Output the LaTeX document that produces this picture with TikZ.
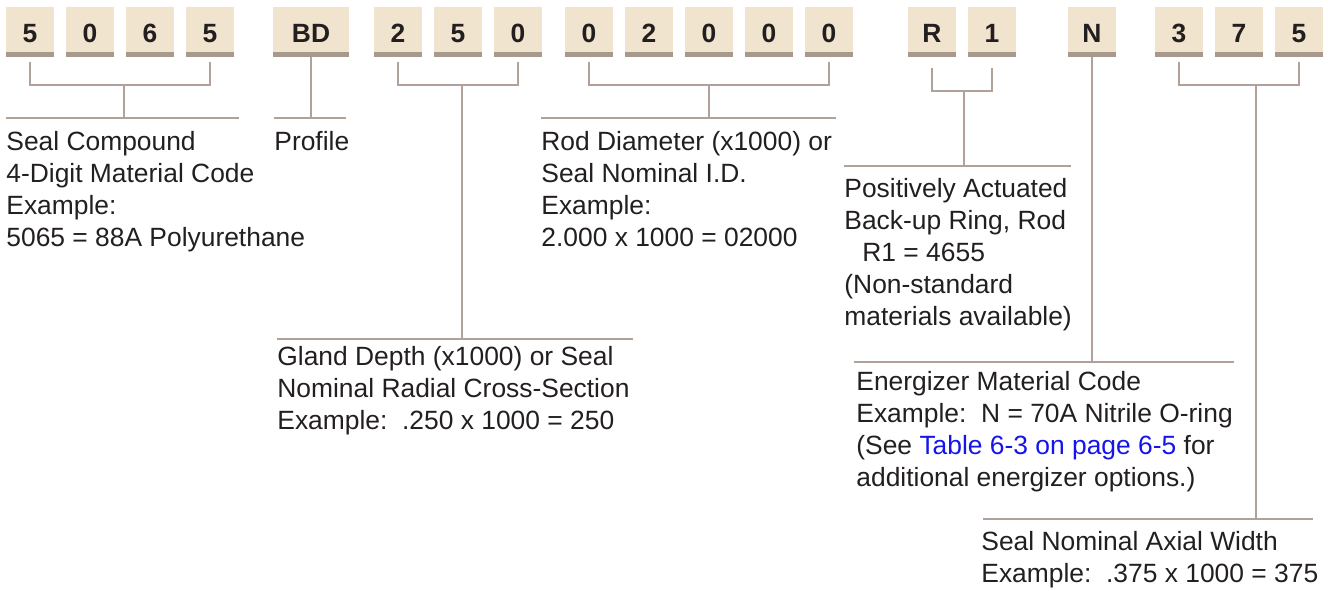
\documentclass[tikz,border=0pt]{standalone}
\usepackage{fontspec}
\setmainfont{Liberation Sans}
\usetikzlibrary{calc}
\definecolor{boxfill}{RGB}{240,228,206}
\definecolor{barcol}{RGB}{168,153,141}
\definecolor{leadcol}{RGB}{176,162,152}
\definecolor{inkcol}{RGB}{35,31,32}
\definecolor{linkcol}{RGB}{20,20,235}
\tikzset{
  codebox/.style={fill=boxfill, minimum width=24pt, minimum height=22.5pt,
    inner sep=0pt, text height=13.2pt, text depth=0pt, text=inkcol,
    font=\fontsize{13.2}{16}\selectfont\bfseries},
  lead/.style={draw=leadcol, line width=1pt},
  % anchored at the baseline of the last line
  legend/.style={align=left, inner sep=0pt, anchor=base west, text=inkcol,
    font=\fontsize{13.2}{16}\selectfont}
}
\begin{document}
\begin{tikzpicture}[x=0.5pt,y=-0.5pt]
  \useasboundingbox (0,0) rectangle (1336,590);
  % code boxes
  \foreach \n/\x/\t in {d1/30/5, d2/90/0, d3/150/6, d4/210/5,
      d6/398/2, d7/458/5, d8/518/0,
      d9/589/0, d10/649/2, d11/709/0, d12/769/0, d13/829/0,
      d14/932/R, d15/992/1, d16/1092/N,
      d17/1179/3, d18/1239/7, d19/1299/5}
    \node[codebox] (\n) at (\x,29.5) {\t};
  \node[codebox, minimum width=38pt] (d5) at (311,29.5) {BD};
  \foreach \n in {d1,d2,d3,d4,d5,d6,d7,d8,d9,d10,d11,d12,d13,d14,d15,d16,d17,d18,d19}
    \fill[barcol] (\n.south west) rectangle ([yshift=-2.5pt]\n.south east);
  % rules over the legends
  \coordinate (sealL) at (6,118);    \coordinate (sealR) at (239,118);
  \coordinate (profL) at (274,118);  \coordinate (profR) at (346,118);
  \coordinate (glandL) at (277,339); \coordinate (glandR) at (633,339);
  \coordinate (rodL) at (541,118);   \coordinate (rodR) at (836,118);
  \coordinate (backL) at (844,166);  \coordinate (backR) at (1071,166);
  \coordinate (enerL) at (854,362);  \coordinate (enerR) at (1234,362);
  \coordinate (axialL) at (983,519); \coordinate (axialR) at (1313,519);
  \foreach \r in {seal,prof,gland,rod,back,ener,axial}
    \draw[lead] (\r L) -- (\r R);
  % brackets
  \draw[lead] ([yshift=-5pt]d1.south) -- ++(0,23) -| ([yshift=-5pt]d4.south);
  \draw[lead] ([yshift=-5pt]d6.south) -- ++(0,23) -| ([yshift=-5pt]d8.south);
  \draw[lead] ([yshift=-5pt]d9.south) -- ++(0,23) -| ([yshift=-5pt]d13.south);
  \draw[lead] ([yshift=-8pt]d14.south) -- ++(0,23) -| ([yshift=-8pt]d15.south);
  \draw[lead] ([yshift=-5pt]d17.south) -- ++(0,23) -| ([yshift=-5pt]d19.south);
  \coordinate (sealM) at ($(d1.south)!.52!(d4.south)+(0,33)$);
  \coordinate (glandM) at ($(d6.south)!.53!(d8.south)+(0,33)$);
  \coordinate (rodM) at ($(d9.south)!.5!(d13.south)+(0,33)$);
  \coordinate (backM) at ($(d14.south)!.53!(d15.south)+(0,39)$);
  \coordinate (axialM) at ($(d17.south)!.64!(d19.south)+(0,33)$);
  % stems
  \draw[lead] (sealM) -- (sealM |- sealL);
  \draw[lead] ([yshift=-2.5pt]d5.south) -- (d5.south |- profL);
  \draw[lead] (glandM) -- (glandM |- glandL);
  \draw[lead] (rodM) -- (rodM |- rodL);
  \draw[lead] (backM) -- (backM |- backL);
  \draw[lead] ([yshift=-2.5pt]d16.south) -- (d16.south |- enerL);
  \draw[lead] (axialM) -- (axialM |- axialL);
  % legends
  \node[legend] (seal) at (6,246) {Seal Compound\\4-Digit Material Code\\Example:\\5065 = 88A Polyurethane};
  \node[legend] (prof) at (274,150) {Profile};
  \node[legend] (gland) at (277,429) {Gland Depth (x1000) or Seal\\Nominal Radial Cross-Section\\Example:\ \ .250 x 1000 = 250};
  \node[legend] (rod) at (541,246) {Rod Diameter (x1000) or\\Seal Nominal I.D.\\Example:\\2.000 x 1000 = 02000};
  \node[legend] (back) at (844,325) {Positively Actuated\\Back-up Ring, Rod\\\hspace*{9pt}R1 = 4655\\(Non-standard\\materials available)};
  \node[legend] (ener) at (856,486) {Energizer Material Code\\Example:\ \ N = 70A Nitrile O-ring\\(See \textcolor{linkcol}{Table 6-3 on page 6-5} for\\additional energizer options.)};
  \node[legend] (axial) at (981,582) {Seal Nominal Axial Width\\Example:\ \ .375 x 1000 = 375};
\end{tikzpicture}
\end{document}
